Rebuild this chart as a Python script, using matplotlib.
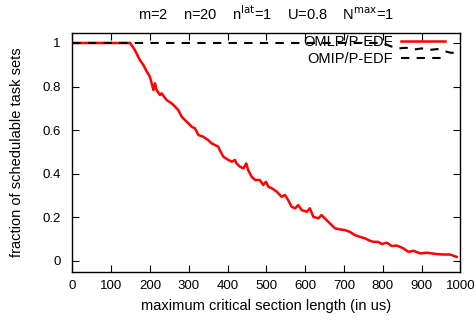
import matplotlib
matplotlib.use("Agg")
import matplotlib.pyplot as plt

plt.rcParams['font.family'] = ['Liberation Sans', 'DejaVu Sans']

# OMLP/P-EDF (red)
omlp_x = [0, 50, 100, 140, 149, 161, 174, 183, 192, 200, 209, 213, 217, 226, 230, 243, 256, 265,
          273, 282, 295, 308, 316, 325, 337, 350, 359, 368, 376, 380, 389, 402, 411, 419, 423,
          432, 441, 448, 453, 462, 471, 483, 492, 499, 505, 514, 527, 539, 548, 556, 565, 574,
          582, 591, 604, 612, 621, 634, 642, 655, 668, 677, 690, 702, 715, 728, 741, 754, 763,
          775, 788, 797, 810, 823, 836, 853, 866, 879, 896, 913, 926, 939, 956, 973, 990]
omlp_y = [1, 1, 1, 1, 1, 0.968, 0.922, 0.899, 0.868, 0.845, 0.784, 0.815, 0.784, 0.761, 0.769,
          0.738, 0.723, 0.707, 0.692, 0.661, 0.638, 0.615, 0.608, 0.577, 0.570, 0.554, 0.539,
          0.531, 0.524, 0.508, 0.478, 0.463, 0.455, 0.463, 0.447, 0.432, 0.424, 0.447, 0.417,
          0.386, 0.371, 0.371, 0.348, 0.363, 0.340, 0.333, 0.317, 0.294, 0.302, 0.279, 0.248,
          0.241, 0.256, 0.233, 0.225, 0.241, 0.202, 0.195, 0.210, 0.187, 0.164, 0.149, 0.144,
          0.141, 0.133, 0.118, 0.110, 0.103, 0.095, 0.087, 0.087, 0.077, 0.083, 0.068, 0.070,
          0.057, 0.041, 0.046, 0.034, 0.037, 0.034, 0.031, 0.029, 0.029, 0.018]

# OMIP/P-EDF (black dashed)
omip_x = [0, 200, 400, 600, 800, 820, 840, 860, 880, 900, 920, 940, 960, 975, 990]
omip_y = [1, 1, 1, 1, 1, 0.985, 0.975, 0.978, 0.970, 0.975, 0.968, 0.972, 0.962, 0.955, 0.955]

x_ticks = [0, 100, 200, 300, 400, 500, 600, 700, 800, 900, 1000]
y_ticks = [0, 0.2, 0.4, 0.6, 0.8, 1]
y_tick_labels = ['0', '0.2', '0.4', '0.6', '0.8', '1']

fig = plt.figure(figsize=(4.77, 3.22), dpi=100)
ax = fig.add_axes([0.1516, 0.1562, 0.9654 - 0.1516, 0.899 - 0.1562])

ax.plot(omlp_x, omlp_y, color='#ff0000', lw=1.8, label='OMLP/P-EDF', zorder=3)
ax.plot(omip_x, omip_y, color='black', lw=1.5, dashes=(4, 3.5), label='OMIP/P-EDF', zorder=4)

ax.set_xlim(0, 1000)
ax.set_ylim(-0.05, 1.048)
ax.set_xticks(x_ticks)
ax.set_yticks(y_ticks)
ax.set_yticklabels(y_tick_labels)
ax.tick_params(direction='in', length=5, width=0.8, top=True, right=True,
               labelsize=9.5, colors='black')
ax.tick_params(axis='x', pad=6)
ax.tick_params(axis='y', pad=8.5)
for s in ax.spines.values():
    s.set_linewidth(1.0)

ax.set_xlabel('maximum critical section length (in us)', fontsize=10.5, labelpad=5)
ax.set_ylabel('fraction of schedulable task sets', fontsize=10.5, labelpad=13)
ax.set_title(r'm=2    n=20    n$^{\mathrm{lat}}$=1    U=0.8    N$^{\mathrm{max}}$=1',
             fontsize=10.5, pad=9)

leg = ax.legend(loc='upper right', bbox_to_anchor=(0.96, 0.99), frameon=False,
                markerfirst=False, fontsize=10.5, handlelength=3.0, handletextpad=0.6,
                borderpad=0, borderaxespad=0, labelspacing=0.2)

fig.savefig('out.png', dpi=100)
